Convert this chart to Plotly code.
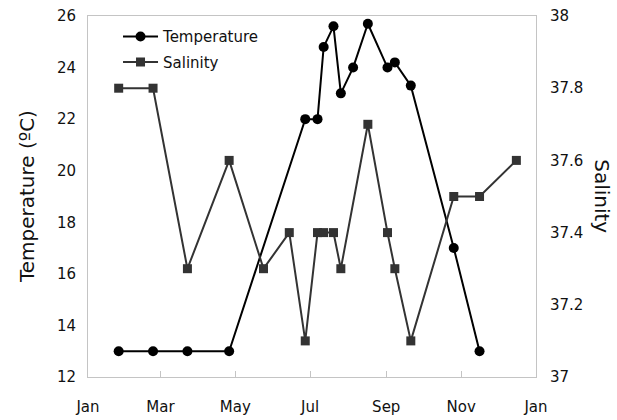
import plotly.graph_objects as go

# Sampling dates and measurements
temp_dates = ["2013-01-26", "2013-02-23", "2013-03-23", "2013-04-26", "2013-06-27",
              "2013-07-07", "2013-07-12", "2013-07-20", "2013-07-26", "2013-08-05",
              "2013-08-17", "2013-09-02", "2013-09-08", "2013-09-21", "2013-10-26",
              "2013-11-16"]
temperature = [13.0, 13.0, 13.0, 13.0, 22.0, 22.0, 24.8, 25.6, 23.0, 24.0,
               25.7, 24.0, 24.2, 23.3, 17.0, 13.0]

sal_dates = ["2013-01-26", "2013-02-23", "2013-03-23", "2013-04-26", "2013-05-24",
             "2013-06-14", "2013-06-27", "2013-07-07", "2013-07-12", "2013-07-20",
             "2013-07-26", "2013-08-17", "2013-09-02", "2013-09-08", "2013-09-21",
             "2013-10-26", "2013-11-16", "2013-12-16"]
salinity = [37.8, 37.8, 37.3, 37.6, 37.3, 37.4, 37.1, 37.4, 37.4, 37.4,
            37.3, 37.7, 37.4, 37.3, 37.1, 37.5, 37.5, 37.6]

tick_dates = ["2013-01-01", "2013-03-01", "2013-05-01", "2013-07-01",
              "2013-09-01", "2013-11-01", "2014-01-01"]
tick_labels = ["Jan", "Mar", "May", "Jul", "Sep", "Nov", "Jan"]

temp_ticks = [12, 14, 16, 18, 20, 22, 24, 26]
sal_ticks = [37, 37.2, 37.4, 37.6, 37.8, 38]
sal_tick_labels = ["37", "37.2", "37.4", "37.6", "37.8", "38"]

FONT = "DejaVu Sans"
FRAME = "#c4c4c4"

fig = go.Figure()
fig.add_trace(go.Scatter(
    x=temp_dates, y=temperature, name="Temperature", mode="lines+markers",
    line=dict(color="#000000", width=2),
    marker=dict(symbol="circle", size=10, color="#000000"),
    yaxis="y", legendgroup="temp",
))
fig.add_trace(go.Scatter(
    x=sal_dates, y=salinity, name="Salinity", mode="lines+markers",
    line=dict(color="#333333", width=2),
    marker=dict(symbol="square", size=9, color="#333333"),
    yaxis="y2", legendgroup="sal",
))

fig.update_layout(
    width=617, height=420,
    margin=dict(l=88, r=81, t=16, b=43),
    paper_bgcolor="white", plot_bgcolor="white",
    font=dict(family=FONT, size=15, color="#111111"),
    showlegend=True,
    legend=dict(x=0.067, y=0.988, xanchor="left", yanchor="top",
                bgcolor="rgba(0,0,0,0)", font=dict(size=15),
                traceorder="grouped", tracegroupgap=3, itemwidth=35),
    xaxis=dict(
        type="date", range=["2013-01-01", "2014-01-01"],
        tickvals=tick_dates, ticktext=tick_labels,
        ticks="inside", ticklen=6, tickcolor=FRAME, tickwidth=1,
        ticklabelstandoff=16, automargin=False,
        showline=True, linecolor=FRAME, linewidth=1, mirror=True,
        showgrid=False, zeroline=False,
    ),
    yaxis=dict(
        range=[12, 26], tickvals=temp_ticks,
        showline=True, linecolor=FRAME, linewidth=1,
        ticks="", ticklabelstandoff=8, automargin=False,
        showgrid=False, zeroline=False,
    ),
    yaxis2=dict(
        range=[37, 38], tickvals=sal_ticks, ticktext=sal_tick_labels,
        overlaying="y", side="right",
        showline=True, linecolor=FRAME, linewidth=1,
        ticks="", ticklabelstandoff=10, automargin=False,
        showgrid=False, zeroline=False,
    ),
    annotations=[
        dict(text="Temperature (ºC)", xref="paper", yref="paper",
             x=-0.137, y=0.5, textangle=-90, showarrow=False,
             xanchor="center", yanchor="middle",
             font=dict(family=FONT, size=20, color="#111111")),
        dict(text="Salinity", xref="paper", yref="paper",
             x=1.148, y=0.5, textangle=90, showarrow=False,
             xanchor="center", yanchor="middle",
             font=dict(family=FONT, size=20, color="#111111")),
    ],
)

fig.write_html("out.html")
